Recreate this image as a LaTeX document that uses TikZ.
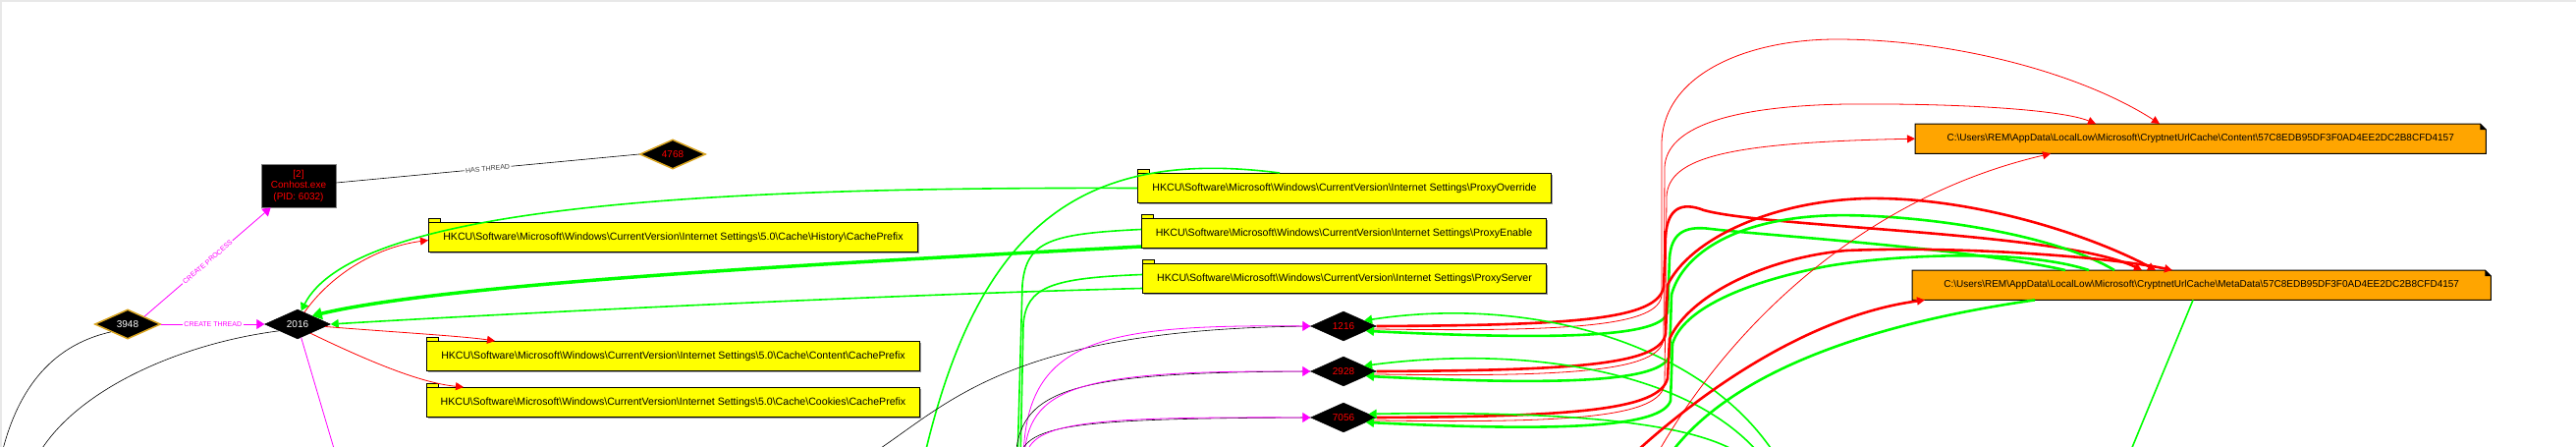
\documentclass[tikz,border=0pt]{standalone}
\usepackage{fontspec}
\setmainfont{Liberation Sans}
\usetikzlibrary{shapes.geometric,arrows.meta,shadows}

\definecolor{gold}{RGB}{218,165,32}
\definecolor{regwrite}{RGB}{255,0,0}
\definecolor{regread}{RGB}{0,255,0}
\definecolor{spawn}{RGB}{255,0,255}
\definecolor{keyfill}{RGB}{255,255,0}
\definecolor{filefill}{RGB}{255,165,0}
\definecolor{framegray}{RGB}{232,232,232}
\newcommand{\kbs}{\textbackslash}

\begin{document}
\begin{tikzpicture}[
	x=1pt, y=-1pt,                       % pixel-like units, y goes down
	>={Triangle[length=8pt,width=8pt]},
	thread/.style={diamond, fill=black, draw=black, minimum width=67pt, minimum height=30pt, inner sep=0pt, font=\fontsize{10}{10}\selectfont},
	goldedge/.style={draw=gold, line width=1.5pt},
	proc/.style={rectangle, fill=black, draw=gray, line width=0.8pt, minimum width=76pt, minimum height=44pt, align=center, text=red, font=\fontsize{10}{11.5}\selectfont},
	regkey/.style={rectangle, anchor=north west, draw=black, line width=1pt, fill=keyfill, minimum height=30pt, inner sep=0pt, font=\fontsize{10.6}{10.6}\selectfont, drop shadow={shadow xshift=1pt, shadow yshift=-1pt, fill=gray!80, opacity=1}},
	keytab/.style={draw=black, fill=keyfill, line width=0.8pt},
	datafile/.style={rectangle, anchor=north west, fill=filefill, minimum height=30pt, inner sep=0pt, font=\fontsize{10}{10}\selectfont},
	hasthread/.style={draw=black, line width=0.6pt},
	spawnedge/.style={draw=spawn, line width=0.8pt, ->, >={Triangle[length=8pt,width=10pt]}},
	regwr/.style={draw=regwrite, line width=0.8pt, ->},
	regrd/.style={draw=regread, line width=1.6pt, ->, >={Triangle[length=8pt,width=9pt]}},
	elabel/.style={font=\fontsize{7}{7}\selectfont, fill=white, inner sep=1.5pt, sloped}
	]
	\useasboundingbox (0,0) rectangle (2623,455);
	\clip (0,0) rectangle (2623,455);
	\fill[framegray] (0,0) rectangle (2623,2);
	\fill[framegray] (0,0) rectangle (2,455);

	% processes and threads
	\node[thread, goldedge, text=white] (d3948) at (130,330) {3948};
	\node[thread, text=white] (d2016) at (303,330) {2016};
	\node[proc] (conhost) at (304,189) {[2]\\Conhost.exe\\(PID: 6032)};
	\node[thread, goldedge, text=red] (d4768) at (685,157) {4768};
	\node[thread, text=red] (d1216) at (1368,332) {1216};
	\node[thread, text=red] (d2928) at (1368,378) {2928};
	\node[thread, text=red] (d7056) at (1368,425) {7056};

	% registry keys
	\node[regkey, minimum width=498pt] (hist) at (436,226) {HKCU\kbs Software\kbs Microsoft\kbs Windows\kbs CurrentVersion\kbs Internet Settings\kbs 5.0\kbs Cache\kbs History\kbs CachePrefix};
	\node[regkey, minimum width=502pt] (cont) at (434,347) {HKCU\kbs Software\kbs Microsoft\kbs Windows\kbs CurrentVersion\kbs Internet Settings\kbs 5.0\kbs Cache\kbs Content\kbs CachePrefix};
	\node[regkey, minimum width=502pt] (cook) at (434,394) {HKCU\kbs Software\kbs Microsoft\kbs Windows\kbs CurrentVersion\kbs Internet Settings\kbs 5.0\kbs Cache\kbs Cookies\kbs CachePrefix};
	\node[regkey, minimum width=421pt] (povr) at (1158,176) {HKCU\kbs Software\kbs Microsoft\kbs Windows\kbs CurrentVersion\kbs Internet Settings\kbs ProxyOverride};
	\node[regkey, minimum width=412pt] (pena) at (1162,222) {HKCU\kbs Software\kbs Microsoft\kbs Windows\kbs CurrentVersion\kbs Internet Settings\kbs ProxyEnable};
	\node[regkey, minimum width=411pt] (psrv) at (1163,268) {HKCU\kbs Software\kbs Microsoft\kbs Windows\kbs CurrentVersion\kbs Internet Settings\kbs ProxyServer};
	\foreach \k in {hist,cont,cook,povr,pena,psrv}
		\draw[keytab] (\k.north west) rectangle ++(12,-4);

	% cache files
	\node[datafile, minimum width=581pt] (cnt) at (1950,126) {C:\kbs Users\kbs REM\kbs AppData\kbs LocalLow\kbs Microsoft\kbs CryptnetUrlCache\kbs Content\kbs 57C8EDB95DF3F0AD4EE2DC2B8CFD4157};
	\node[datafile, minimum width=589pt] (meta) at (1947,275) {C:\kbs Users\kbs REM\kbs AppData\kbs LocalLow\kbs Microsoft\kbs CryptnetUrlCache\kbs MetaData\kbs 57C8EDB95DF3F0AD4EE2DC2B8CFD4157};
	\foreach \f in {cnt,meta} {
		\fill[white] ([xshift=-6pt]\f.north east) -- (\f.north east) -- ([yshift=-6pt]\f.north east) -- cycle;
		\draw[line width=1pt] (\f.north west) -- ([xshift=-6pt]\f.north east) -- ([yshift=-6pt]\f.north east) -- (\f.south east) -- (\f.south west) -- cycle;
		\fill ([xshift=-6pt]\f.north east) -- ([xshift=-6pt,yshift=-6pt]\f.north east) -- ([yshift=-6pt]\f.north east) -- cycle;
	}

	% free ends below the frame
	\coordinate (o3948) at (0,470);
	\coordinate (o2016) at (35,470);
	\coordinate (m2016) at (344,470);
	\coordinate (oPovr) at (940,470);
	\coordinate (oPena) at (1036,470);
	\coordinate (oPsrv) at (1039,470);
	\coordinate (oB1216) at (875,470);
	\coordinate (oB2928) at (1034,470);
	\coordinate (oB7056) at (1038,470);
	\coordinate (oM1216) at (1042,470);
	\coordinate (oM2928) at (1043,470);
	\coordinate (oM7056) at (1044,470);
	\coordinate (oG1) at (1812,470);
	\coordinate (oG2) at (1798,470);
	\coordinate (oG3) at (1782,470);
	\coordinate (oR4) at (1655,470);
	\coordinate (oG5) at (1695,470);
	\coordinate (oR6) at (1683,470);
	\coordinate (oG7) at (2165,470);

	% process edges
	\draw[spawnedge] (d3948.north east) -- node[elabel, text=spawn] {CREATE PROCESS} ([xshift=10pt]conhost.south west);
	\draw[spawnedge] (d3948.east) -- node[elabel, text=spawn] {CREATE THREAD} (d2016.west);
	\draw[hasthread] ([yshift=3pt]conhost.east) -- node[elabel, text=black!75] {HAS THREAD} (d4768.west);
	\draw[hasthread] (d3948.south west) .. controls (50,352) and (15,400) .. (o3948);
	\draw[hasthread] (d2016.200) .. controls (180,350) and (70,400) .. (o2016);
	\draw[draw=spawn, line width=0.8pt] (d2016.-75) -- (m2016);

	% 2016 and the registry
	\draw[regrd] (povr.west) .. controls (700,190) and (360,212) .. (d2016.75);
	\draw[regrd, line width=3.5pt, >={Triangle[length=10pt,width=12pt]}] ([yshift=2pt]pena.south west) .. controls (800,270) and (450,290) .. (d2016.30);
	\draw[regrd] ([yshift=-10pt]psrv.west) .. controls (900,300) and (500,320) .. (d2016.east);
	\draw[regwr] (d2016.60) .. controls (335,282) and (380,252) .. ([yshift=-3pt]hist.west);
	\draw[regwr] (d2016.-5) .. controls (400,338) and (470,342) .. ([xshift=70pt]cont.north west);
	\draw[regwr] (d2016.-35) .. controls (380,370) and (430,390) .. ([xshift=38pt]cook.north west);

	% keys read by threads below
	\draw[draw=regread, line width=1.6pt] ([xshift=145pt]povr.north west) .. controls (1100,150) and (995,230) .. (oPovr);
	\draw[draw=regread, line width=1.6pt] ([yshift=4pt]pena.west) .. controls (1070,238) and (1045,245) .. (1041,290) -- (oPena);
	\draw[draw=regread, line width=1.6pt] ([yshift=4pt]psrv.west) .. controls (1070,283) and (1045,292) .. (1042,330) -- (oPsrv);

	% threads created from below
	\draw[hasthread] (oB1216) .. controls (960,420) and (1010,335) .. (d1216.west);
	\draw[spawnedge] (oM1216) .. controls (1043,345) and (1120,330) .. (d1216.west);
	\draw[hasthread] (oB2928) .. controls (1036,395) and (1090,379) .. (d2928.west);
	\draw[spawnedge] (oM2928) .. controls (1044,392) and (1100,377) .. (d2928.west);
	\draw[hasthread] (oB7056) .. controls (1040,432) and (1090,426) .. (d7056.west);
	\draw[spawnedge] (oM7056) .. controls (1045,430) and (1100,424) .. (d7056.west);

	% 1216 and the cache files
	\draw[regwr, line width=2.6pt] (d1216.east) .. controls (1600,331) and (1688,326) .. (1694,292)
		-- (1696,240) .. controls (1698,212) and (1712,205) .. (1735,214)
		.. controls (1800,232) and (2100,236) .. ([xshift=234pt]meta.north west);
	\draw[regwr] (d1216.-6) .. controls (1600,338) and (1690,332) .. (1692,300)
		-- (1692,145) .. controls (1694,75) and (1780,40) .. (1870,40)
		.. controls (1990,40) and (2120,75) .. ([xshift=249pt]cnt.north west);
	\draw[regrd, line width=2.6pt] ([xshift=156pt]meta.north west) .. controls (2000,252) and (1800,240) .. (1742,233)
		.. controls (1712,229) and (1702,240) .. (1700,262) -- (1698,318)
		.. controls (1692,342) and (1600,347) .. (d1216.-12);
	\draw[regrd] (oG1) .. controls (1740,350) and (1560,300) .. (d1216.15);

	% 2928 and the cache files
	\draw[regwr, line width=2.6pt] (d2928.east) .. controls (1600,377) and (1690,372) .. (1696,340)
		-- (1698,290) .. controls (1720,245) and (1800,205) .. (1900,202)
		.. controls (2010,200) and (2130,240) .. ([xshift=248pt]meta.north west);
	\draw[regwr] (d2928.-6) .. controls (1600,384) and (1690,378) .. (1694,345)
		-- (1695,170) .. controls (1697,130) and (1760,108) .. (1880,106)
		.. controls (2000,105) and (2100,112) .. ([xshift=184pt]cnt.north west);
	\draw[regrd, line width=2.6pt] ([xshift=206pt]meta.north west) .. controls (2080,232) and (1920,215) .. (1850,220)
		.. controls (1760,226) and (1712,262) .. (1702,300) -- (1700,362)
		.. controls (1692,388) and (1600,393) .. (d2928.-12);
	\draw[regrd] (oG2) .. controls (1730,380) and (1560,350) .. (d2928.15);

	% 7056 and the cache files
	\draw[regwr, line width=2.6pt] (d7056.east) .. controls (1600,424) and (1690,418) .. (1698,385)
		-- (1700,345) .. controls (1720,300) and (1800,262) .. (1880,255)
		.. controls (2000,250) and (2150,262) .. ([xshift=265pt]meta.north west);
	\draw[regwr] (d7056.-6) .. controls (1600,431) and (1692,425) .. (1695,390)
		-- (1697,200) .. controls (1699,160) and (1760,145) .. (cnt.west);
	\draw[regrd, line width=2.6pt] ([xshift=180pt]meta.north west) .. controls (2050,250) and (1900,262) .. (1850,273)
		.. controls (1760,292) and (1712,320) .. (1703,350) -- (1701,408)
		.. controls (1692,434) and (1600,440) .. (d7056.-12);
	\draw[regrd] (oG3) .. controls (1740,430) and (1600,418) .. (d7056.8);

	% cache files and threads below
	\draw[regwr, line width=2.6pt] (oR4) .. controls (1740,390) and (1850,320) .. ([xshift=13pt]meta.south west);
	\draw[regrd, line width=2.6pt] ([xshift=125pt]meta.south west) .. controls (1900,330) and (1760,380) .. (oG5);
	\draw[regwr] (oR6) .. controls (1760,330) and (1900,200) .. ([xshift=138pt]cnt.south west);
	\draw[regrd] ([xshift=286pt]meta.south west) -- (oG7);
\end{tikzpicture}
\end{document}
